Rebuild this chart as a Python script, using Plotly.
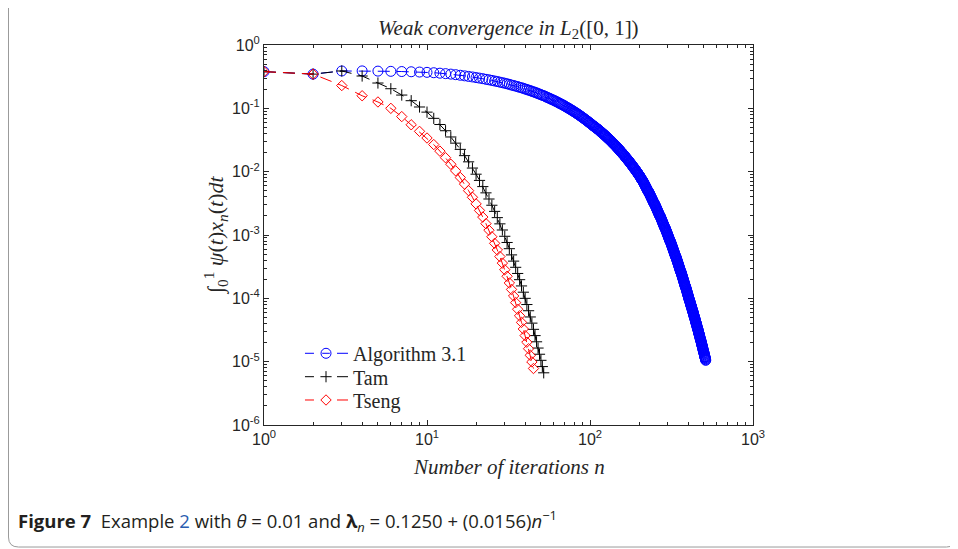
import plotly.graph_objects as go

# ---------------- data ----------------
series_names = ["Algorithm 3.1", "Tam", "Tseng"]

alg31 = [
    # n = 1..14
    0.380, 0.347, 0.389, 0.390, 0.387, 0.384, 0.381, 0.378, 0.374, 0.370, 0.365, 0.359, 0.353, 0.347,
    # 15..24
    0.340, 0.333, 0.326, 0.319, 0.313, 0.306, 0.300, 0.294, 0.287, 0.282,
    # 25..34
    0.276, 0.270, 0.265, 0.259, 0.254, 0.249, 0.244, 0.239, 0.233, 0.229,
    # 35..44
    0.224, 0.220, 0.215, 0.211, 0.207, 0.202, 0.198, 0.194, 0.190, 0.186,
    # 45..54
    0.182, 0.179, 0.175, 0.171, 0.168, 0.164, 0.161, 0.158, 0.155, 0.151,
    # 55..64
    0.148, 0.145, 0.142, 0.139, 0.136, 0.134, 0.131, 0.128, 0.126, 0.123,
    # 65..74
    0.120, 0.118, 0.116, 0.113, 0.111, 0.109, 0.106, 0.104, 0.102, 0.100,
    # 75..84
    9.79e-2, 9.59e-2, 9.40e-2, 9.20e-2, 9.02e-2, 8.83e-2, 8.65e-2, 8.47e-2, 8.30e-2, 8.13e-2,
    # 85..94
    7.96e-2, 7.80e-2, 7.64e-2, 7.48e-2, 7.33e-2, 7.18e-2, 7.03e-2, 6.89e-2, 6.75e-2, 6.61e-2,
    # 95..100
    6.47e-2, 6.34e-2, 6.21e-2, 6.08e-2, 5.96e-2, 5.83e-2,
    # 101..110
    5.75e-2, 5.62e-2, 5.50e-2, 5.37e-2, 5.25e-2, 5.21e-2, 5.13e-2, 5.01e-2, 4.90e-2, 4.79e-2,
    # 111..120
    4.74e-2, 4.68e-2, 4.57e-2, 4.47e-2, 4.37e-2, 4.27e-2, 4.22e-2, 4.17e-2, 4.07e-2, 3.98e-2,
    # 121..130
    3.89e-2, 3.85e-2, 3.80e-2, 3.72e-2, 3.63e-2, 3.55e-2, 3.47e-2, 3.43e-2, 3.39e-2, 3.31e-2,
    # 131..140
    3.24e-2, 3.16e-2, 3.13e-2, 3.09e-2, 3.02e-2, 2.95e-2, 2.88e-2, 2.82e-2, 2.79e-2, 2.75e-2,
    # 141..150
    2.69e-2, 2.63e-2, 2.57e-2, 2.54e-2, 2.51e-2, 2.45e-2, 2.40e-2, 2.34e-2, 2.29e-2, 2.27e-2,
    # 151..160
    2.24e-2, 2.19e-2, 2.14e-2, 2.09e-2, 2.04e-2, 2.02e-2, 2.00e-2, 1.95e-2, 1.91e-2, 1.86e-2,
    # 161..170
    1.84e-2, 1.82e-2, 1.78e-2, 1.74e-2, 1.70e-2, 1.66e-2, 1.64e-2, 1.62e-2, 1.58e-2, 1.55e-2,
    # 171..180
    1.51e-2, 1.50e-2, 1.48e-2, 1.45e-2, 1.41e-2, 1.38e-2, 1.35e-2, 1.34e-2, 1.32e-2, 1.29e-2,
    # 181..190
    1.26e-2, 1.23e-2, 1.22e-2, 1.20e-2, 1.17e-2, 1.15e-2, 1.12e-2, 1.10e-2, 1.09e-2, 1.07e-2,
    # 191..200
    1.05e-2, 1.02e-2, 1.00e-2, 9.88e-3, 9.77e-3, 9.55e-3, 9.33e-3, 9.12e-3, 8.91e-3, 8.81e-3,
    # 201..210
    8.71e-3, 8.51e-3, 8.32e-3, 8.13e-3, 7.94e-3, 7.76e-3, 7.59e-3, 7.50e-3, 7.41e-3, 7.24e-3,
    # 211..220
    7.08e-3, 6.92e-3, 6.76e-3, 6.61e-3, 6.46e-3, 6.31e-3, 6.17e-3, 6.03e-3, 5.89e-3, 5.75e-3,
    # 221..230
    5.62e-3, 5.50e-3, 5.37e-3, 5.25e-3, 5.13e-3, 5.01e-3, 4.90e-3, 4.84e-3, 4.79e-3, 4.68e-3,
    # 231..240
    4.57e-3, 4.47e-3, 4.37e-3, 4.27e-3, 4.17e-3, 4.07e-3, 3.98e-3, 3.89e-3, 3.80e-3, 3.72e-3,
    # 241..250
    3.63e-3, 3.55e-3, 3.47e-3, 3.39e-3, 3.31e-3, 3.24e-3, 3.16e-3, 3.13e-3, 3.09e-3, 3.02e-3,
    # 251..260
    2.95e-3, 2.88e-3, 2.82e-3, 2.75e-3, 2.69e-3, 2.63e-3, 2.57e-3, 2.51e-3, 2.45e-3, 2.40e-3,
    # 261..270
    2.34e-3, 2.29e-3, 2.24e-3, 2.19e-3, 2.14e-3, 2.09e-3, 2.04e-3, 2.02e-3, 2.00e-3, 1.95e-3,
    # 271..280
    1.91e-3, 1.86e-3, 1.82e-3, 1.78e-3, 1.74e-3, 1.70e-3, 1.66e-3, 1.62e-3, 1.58e-3, 1.55e-3,
    # 281..290
    1.51e-3, 1.48e-3, 1.45e-3, 1.41e-3, 1.38e-3, 1.35e-3, 1.32e-3, 1.31e-3, 1.29e-3, 1.26e-3,
    # 291..300
    1.23e-3, 1.20e-3, 1.17e-3, 1.15e-3, 1.12e-3, 1.10e-3, 1.07e-3, 1.05e-3, 1.02e-3, 1.00e-3,
    # 301..310
    9.77e-4, 9.55e-4, 9.33e-4, 9.12e-4, 8.91e-4, 8.71e-4, 8.51e-4, 8.32e-4, 8.13e-4, 8.03e-4,
    # 311..320
    7.94e-4, 7.76e-4, 7.59e-4, 7.41e-4, 7.24e-4, 7.08e-4, 6.92e-4, 6.76e-4, 6.61e-4, 6.46e-4,
    # 321..330
    6.31e-4, 6.17e-4, 6.03e-4, 5.89e-4, 5.75e-4, 5.62e-4, 5.50e-4, 5.37e-4, 5.25e-4, 5.13e-4,
    # 331..340
    5.01e-4, 4.90e-4, 4.79e-4, 4.68e-4, 4.63e-4, 4.57e-4, 4.47e-4, 4.37e-4, 4.27e-4, 4.17e-4,
    # 341..350
    4.07e-4, 3.98e-4, 3.89e-4, 3.80e-4, 3.72e-4, 3.63e-4, 3.55e-4, 3.47e-4, 3.39e-4, 3.31e-4,
    # 351..360
    3.24e-4, 3.16e-4, 3.09e-4, 3.02e-4, 2.95e-4, 2.88e-4, 2.82e-4, 2.75e-4, 2.69e-4, 2.66e-4,
    # 361..370
    2.63e-4, 2.57e-4, 2.51e-4, 2.45e-4, 2.40e-4, 2.34e-4, 2.29e-4, 2.24e-4, 2.19e-4, 2.14e-4,
    # 371..380
    2.09e-4, 2.04e-4, 2.00e-4, 1.95e-4, 1.91e-4, 1.86e-4, 1.82e-4, 1.78e-4, 1.74e-4, 1.70e-4,
    # 381..390
    1.66e-4, 1.62e-4, 1.58e-4, 1.55e-4, 1.53e-4, 1.51e-4, 1.48e-4, 1.45e-4, 1.41e-4, 1.38e-4,
    # 391..400
    1.35e-4, 1.32e-4, 1.29e-4, 1.26e-4, 1.23e-4, 1.20e-4, 1.17e-4, 1.15e-4, 1.12e-4, 1.10e-4,
    # 401..410
    1.07e-4, 1.05e-4, 1.02e-4, 1.00e-4, 9.77e-5, 9.55e-5, 9.44e-5, 9.33e-5, 9.12e-5, 8.91e-5,
    # 411..420
    8.71e-5, 8.51e-5, 8.32e-5, 8.13e-5, 7.94e-5, 7.76e-5, 7.67e-5, 7.59e-5, 7.41e-5, 7.24e-5,
    # 421..430
    7.08e-5, 6.92e-5, 6.76e-5, 6.61e-5, 6.46e-5, 6.31e-5, 6.24e-5, 6.17e-5, 6.03e-5, 5.89e-5,
    # 431..440
    5.75e-5, 5.62e-5, 5.50e-5, 5.37e-5, 5.25e-5, 5.13e-5, 5.07e-5, 5.01e-5, 4.90e-5, 4.79e-5,
    # 441..450
    4.68e-5, 4.57e-5, 4.47e-5, 4.37e-5, 4.27e-5, 4.17e-5, 4.12e-5, 4.07e-5, 3.98e-5, 3.89e-5,
    # 451..460
    3.80e-5, 3.72e-5, 3.63e-5, 3.55e-5, 3.47e-5, 3.39e-5, 3.35e-5, 3.31e-5, 3.24e-5, 3.16e-5,
    # 461..470
    3.09e-5, 3.02e-5, 2.95e-5, 2.88e-5, 2.82e-5, 2.75e-5, 2.72e-5, 2.69e-5, 2.63e-5, 2.57e-5,
    # 471..480
    2.51e-5, 2.45e-5, 2.40e-5, 2.34e-5, 2.29e-5, 2.24e-5, 2.21e-5, 2.19e-5, 2.14e-5, 2.09e-5,
    # 481..490
    2.04e-5, 2.00e-5, 1.95e-5, 1.91e-5, 1.86e-5, 1.82e-5, 1.80e-5, 1.78e-5, 1.74e-5, 1.70e-5,
    # 491..500
    1.66e-5, 1.62e-5, 1.58e-5, 1.55e-5, 1.51e-5, 1.48e-5, 1.46e-5, 1.45e-5, 1.41e-5, 1.38e-5,
    # 501..510
    1.35e-5, 1.32e-5, 1.29e-5, 1.26e-5, 1.23e-5, 1.20e-5, 1.19e-5, 1.17e-5, 1.15e-5, 1.12e-5,
    # 511..513
    1.10e-5, 1.07e-5, 1.05e-5,
]

tam = [
    0.380, 0.347, 0.389, 0.324, 0.251, 0.204, 0.162, 0.132, 0.105, 0.0871,
    0.0695, 0.0555, 0.0443, 0.0353, 0.0282, 0.0225, 0.0179, 0.0143, 0.0114, 9.12e-3,
    7.28e-3, 5.81e-3, 4.63e-3, 3.70e-3, 2.95e-3, 2.36e-3, 1.88e-3, 1.50e-3, 1.20e-3, 9.55e-4,
    7.62e-4, 6.08e-4, 4.85e-4, 3.87e-4, 3.09e-4, 2.47e-4, 1.97e-4, 1.57e-4, 1.25e-4, 1.00e-4,
    7.98e-5, 6.37e-5, 5.08e-5, 4.06e-5, 3.24e-5, 2.58e-5, 2.06e-5, 1.64e-5, 1.31e-5, 1.05e-5,
    8.36e-6, 6.67e-6,
]

tseng = [
    0.380, 0.347, 0.229, 0.158, 0.126, 0.100, 0.0741, 0.0550, 0.0433, 0.0340,
    0.0268, 0.0211, 0.0166, 0.0131, 0.0103, 8.09e-3, 6.37e-3, 5.01e-3, 3.94e-3, 3.10e-3,
    2.44e-3, 1.92e-3, 1.51e-3, 1.19e-3, 9.38e-4, 7.38e-4, 5.81e-4, 4.57e-4, 3.60e-4, 2.83e-4,
    2.23e-4, 1.75e-4, 1.38e-4, 1.09e-4, 8.55e-5, 6.73e-5, 5.30e-5, 4.17e-5, 3.28e-5, 2.58e-5,
    2.03e-5, 1.60e-5, 1.26e-5, 9.91e-6, 7.80e-6,
]

x_tickvals = [1, 10, 100, 1000]
x_ticktext = ["10<sup>0</sup>", "10<sup>1</sup>", "10<sup>2</sup>", "10<sup>3</sup>"]
y_tickvals = [1e-6, 1e-5, 1e-4, 1e-3, 1e-2, 1e-1, 1]
y_ticktext = ["10<sup>-6</sup>", "10<sup>-5</sup>", "10<sup>-4</sup>", "10<sup>-3</sup>",
              "10<sup>-2</sup>", "10<sup>-1</sup>", "10<sup>0</sup>"]

title_text = "<i>Weak convergence in L</i><sub>2</sub>([0, 1])"
x_title = "<i>Number of iterations n</i>"
y_title = "∫<sub>0</sub><sup>1</sup> <i>ψ</i>(<i>t</i>)<i>x</i><sub><i>n</i></sub>(<i>t</i>)<i>dt</i>"
caption = ("<b>Figure 7</b>\u00a0\u00a0Example <span style='color:#2a5db0'>2</span> with "
           "<i>θ</i> = 0.01 and <b>λ</b><sub><i>n</i></sub> = 0.1250 + (0.0156)<i>n</i><sup>−1</sup>")

# ---------------- styling ----------------
AX = "#262626"
SERIF = "Liberation Serif, Times New Roman, serif"
SANS = "Liberation Sans, Arial, sans-serif"

styles = [
    dict(color="#0000ff", symbol="circle-open", size=10),
    dict(color="#000000", symbol="cross-thin-open", size=8),
    dict(color="#ff0000", symbol="diamond-open", size=8),
]
legend_ids = ["legend", "legend2", "legend3"]
legend_y = [0.1887, 0.1271, 0.0658]

fig = go.Figure()
for name, vals, st in zip(series_names, [alg31, tam, tseng], styles):
    fig.add_trace(go.Scatter(
        x=list(range(1, len(vals) + 1)), y=vals, name=name, showlegend=False,
        mode="lines+markers",
        line=dict(color=st["color"], width=1, dash="12px,7px"),
        marker=dict(symbol=st["symbol"], size=st["size"], color=st["color"],
                    line=dict(color=st["color"], width=1)),
    ))
# legend entries (one legend box per entry so that spacing and text size match)
for name, st, lid in zip(series_names, styles, legend_ids):
    fig.add_trace(go.Scatter(
        x=[None], y=[None], name=name, legend=lid, showlegend=True,
        mode="markers",
        marker=dict(symbol=st["symbol"], size=st["size"], color=st["color"],
                    line=dict(color=st["color"], width=1)),
    ))

axis_common = dict(
    type="log", showgrid=False, zeroline=False,
    showline=True, linecolor=AX, linewidth=1, mirror="allticks",
    ticks="inside", ticklen=5, tickwidth=1, tickcolor=AX,
    tickfont=dict(family=SANS, size=16, color=AX),
    minor=dict(ticks="inside", ticklen=3, tickwidth=1, tickcolor=AX, dtick="D1", showgrid=False),
)

legend_common = dict(xanchor="left", yanchor="middle", bgcolor="rgba(0,0,0,0)", borderwidth=0,
                     font=dict(family=SERIF, size=20, color=AX), itemwidth=44)

# the page adds an 8px body margin, so the figure is 8px smaller than the window
fig.update_layout(
    width=950, height=541,
    margin=dict(l=256, r=205, t=37, b=124),
    paper_bgcolor="white", plot_bgcolor="white",
    showlegend=True,
    xaxis=dict(range=[0, 3], tickmode="array", tickvals=x_tickvals, ticktext=x_ticktext, **axis_common),
    yaxis=dict(range=[-6, 0], tickmode="array", tickvals=y_tickvals, ticktext=y_ticktext, **axis_common),
)
for lid, ly in zip(legend_ids, legend_y):
    fig.update_layout({lid: dict(x=0.0716, y=ly, **legend_common)})

# dashed legend sample segments on both sides of each legend marker
for i, (st, ly) in enumerate(zip(styles, legend_y)):
    segs = [(0.0838, 0.1022), (0.1493, 0.1718)]
    if i == 0:
        segs.append((0.1190, 0.1346))  # the dash that runs through the circle marker
    for sx0, sx1 in segs:
        fig.add_shape(type="line", xref="paper", yref="paper", x0=sx0, x1=sx1, y0=ly, y1=ly,
                      line=dict(color=st["color"], width=1))

annotations = [
    dict(text=title_text, x=0.5, y=1.0, xref="paper", yref="paper", xanchor="center", yanchor="bottom",
         yshift=1, showarrow=False, font=dict(family=SERIF, size=21, color=AX)),
    dict(text=x_title, x=0.5, y=-0.11, xref="paper", yref="paper", xanchor="center", yanchor="middle",
         showarrow=False, font=dict(family=SERIF, size=21, color=AX)),
    dict(text=y_title, x=-0.1, y=0.5, xref="paper", yref="paper", xanchor="center", yanchor="middle",
         textangle=-90, showarrow=False, font=dict(family=SERIF, size=22, color=AX)),
    dict(text=caption, x=-0.5072, y=-0.2526, xref="paper", yref="paper", xanchor="left", yanchor="middle",
         showarrow=False, font=dict(family="Open Sans, sans-serif", size=18.5, color="#231f20")),
]
fig.update_layout(annotations=annotations)

# rounded frame around the whole figure (left, bottom, right sides)
x0, x1 = -0.5225, 1.4162
yb, yt = -0.3211, 1.15
rx, ry = 0.0205, 0.0263
frame_path = (f"M{x0},{yt} L{x0},{yb + ry} Q{x0},{yb} {x0 + rx},{yb} "
              f"L{x1 - rx},{yb} Q{x1},{yb} {x1},{yb + ry} L{x1},{yt}")
fig.add_shape(type="path", path=frame_path, xref="paper", yref="paper",
              line=dict(color="#9a9a9a", width=1), layer="above")

fig.write_html("out.html")
